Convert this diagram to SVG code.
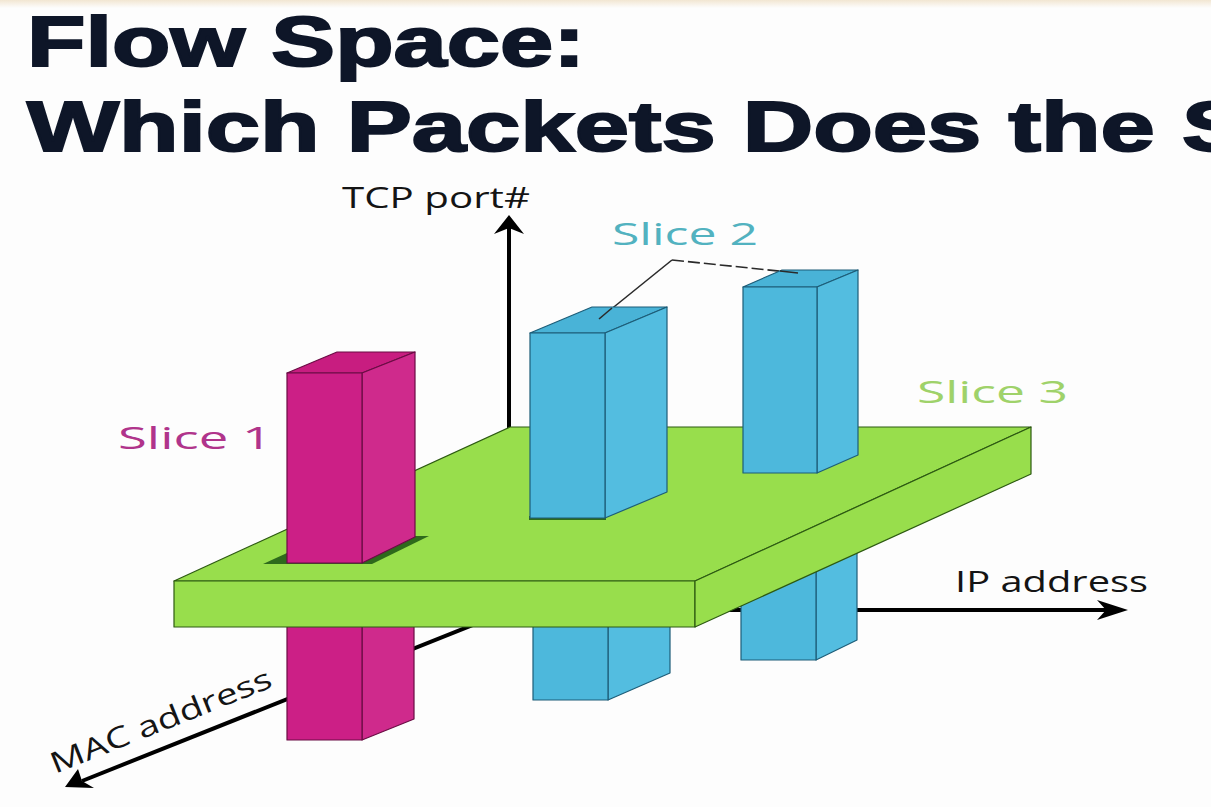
<svg xmlns="http://www.w3.org/2000/svg" width="1211" height="807" viewBox="0 0 1211 807">
  <defs>
    <linearGradient id="topband" x1="0" y1="0" x2="0" y2="1">
      <stop offset="0" stop-color="#f2e6d2"/>
      <stop offset="1" stop-color="#fdfdfd"/>
    </linearGradient>
    <style>
      .title { font-family: "Liberation Sans", Arial, sans-serif; font-weight: bold; font-size: 71px; fill: #0e1628; stroke: #0e1628; stroke-width: 2; }
      .axis-label { font-family: "Open Sans", "DejaVu Sans", sans-serif; font-size: 29px; fill: #141414; }
      .slice-label { font-family: "Open Sans", "DejaVu Sans", sans-serif; font-size: 31px; }
      .axis { stroke: #000; stroke-width: 4; fill: none; }
      .head { fill: #000; }
      .callout { stroke: #2a2a2a; stroke-width: 1.6; fill: none; }
      .plate { fill: #98de4c; stroke: #2d5a12; stroke-width: 1.2; stroke-linejoin: round; }
      .hole { fill: #2e6a1c; }
      .pink-front { fill: #cc1f86; stroke: #6a0c44; stroke-width: 1.2; stroke-linejoin: round; }
      .pink-side { fill: #cf2a8c; stroke: #6a0c44; stroke-width: 1.2; stroke-linejoin: round; }
      .pink-top { fill: #c81d80; stroke: #6a0c44; stroke-width: 1.2; stroke-linejoin: round; }
      .blue-front { fill: #4db8dc; stroke: #1d5d78; stroke-width: 1.2; stroke-linejoin: round; }
      .blue-side { fill: #53bde0; stroke: #1d5d78; stroke-width: 1.2; stroke-linejoin: round; }
      .blue-top { fill: #49b3d7; stroke: #1d5d78; stroke-width: 1.2; stroke-linejoin: round; }
    </style>
  </defs>

  <!-- page -->
  <rect x="0" y="0" width="1211" height="807" fill="#fdfdfd"/>
  <rect x="0" y="0" width="1211" height="8" fill="url(#topband)"/>

  <!-- heading -->
  <g id="title">
    <text class="title" x="27" y="66" textLength="558" lengthAdjust="spacingAndGlyphs">Flow Space:</text>
    <text class="title" x="27" y="151" textLength="1220" lengthAdjust="spacingAndGlyphs">Which Packets Does the S</text>
  </g>

  <!-- coordinate axes (origin hidden under the plate) -->
  <g id="connectors">
    <line class="axis" x1="509" y1="610" x2="509" y2="228" stroke-width="4.5"/>
    <polygon class="head" points="509,215 524,234 509,228 494,234"/>
    <line class="axis" x1="510" y1="610" x2="1106" y2="610" stroke-width="3.5"/>
    <polygon class="head" points="1128,610 1097,620 1106,610 1097,600"/>
    <line class="axis" x1="510" y1="610" x2="82" y2="781" stroke-width="3.5"/>
    <polygon class="head" points="65,787 78,769 82,781 94,788"/>
    <!-- Slice 2 callout -->
    <polyline class="callout" points="599,319 672,260"/>
    <polyline class="callout" points="672,260 798,273" stroke-dasharray="12 4"/>
  </g>

  <!-- lower parts of the columns, below the plate -->
  <g id="slice1-lower">
    <polygon class="pink-side" points="362,620 414,620 414,719 362,740"/>
    <rect class="pink-front" x="287" y="620" width="75" height="120"/>
  </g>
  <g id="slice2a-lower">
    <polygon class="blue-side" points="608,620 670,620 670,673 608,700"/>
    <rect class="blue-front" x="533" y="620" width="75" height="80"/>
  </g>
  <g id="slice2b-lower">
    <polygon class="blue-side" points="816,540 857,540 857,640 816,660"/>
    <rect class="blue-front" x="741" y="540" width="75" height="120"/>
  </g>

  <!-- Slice 3: the flat plate -->
  <g id="slice3">
    <polygon class="plate" points="174,581 695,581 1031,427 510,427"/>
    <polygon class="plate" points="174,581 695,581 695,627 174,627"/>
    <polygon class="plate" points="695,581 1031,427 1031,474 695,627"/>
    <polygon class="hole" points="263,564 372,564 429,536 324,536"/>
    <polygon class="hole" points="529,520 606,520 606,516 529,516"/>
  </g>

  <!-- upper parts of the columns, above the plate -->
  <g id="slice1">
    <polygon class="pink-top" points="287,373 362,373 415,352 337,352"/>
    <polygon class="pink-side" points="362,373 415,352 415,537 362,563"/>
    <rect class="pink-front" x="287" y="373" width="75" height="190"/>
  </g>
  <g id="slice2a">
    <polygon class="blue-top" points="530,333 605,333 667,307 592,307"/>
    <polygon class="blue-side" points="605,333 667,307 667,492 605,518"/>
    <rect class="blue-front" x="530" y="333" width="75" height="185"/>
  </g>
  <g id="slice2b">
    <polygon class="blue-top" points="743,287 817,287 858,270 782,270"/>
    <polygon class="blue-side" points="817,287 858,270 858,455 817,473"/>
    <rect class="blue-front" x="743" y="287" width="74" height="186"/>
  </g>

  <!-- callout tips drawn over the column tops -->
  <g id="callout-tips">
    <line class="callout" x1="599" y1="319" x2="612" y2="308"/>
    <line class="callout" x1="780" y1="271" x2="798" y2="273" stroke-width="2.5"/>
  </g>

  <!-- labels -->
  <g id="labels">
    <text class="axis-label" x="342" y="208" textLength="188" lengthAdjust="spacingAndGlyphs">TCP port#</text>
    <text class="axis-label" x="955" y="592" textLength="193" lengthAdjust="spacingAndGlyphs">IP address</text>
    <text class="axis-label" transform="translate(55,774) rotate(-21.8)" x="0" y="0" textLength="236" lengthAdjust="spacingAndGlyphs">MAC address</text>
    <text class="slice-label" x="118" y="449" fill="#b0348b" textLength="154" lengthAdjust="spacingAndGlyphs">Slice 1</text>
    <text class="slice-label" x="612" y="245" fill="#52b2c0" textLength="146" lengthAdjust="spacingAndGlyphs">Slice 2</text>
    <text class="slice-label" x="917" y="403" fill="#9fd26a" textLength="151" lengthAdjust="spacingAndGlyphs">Slice 3</text>
  </g>
</svg>
